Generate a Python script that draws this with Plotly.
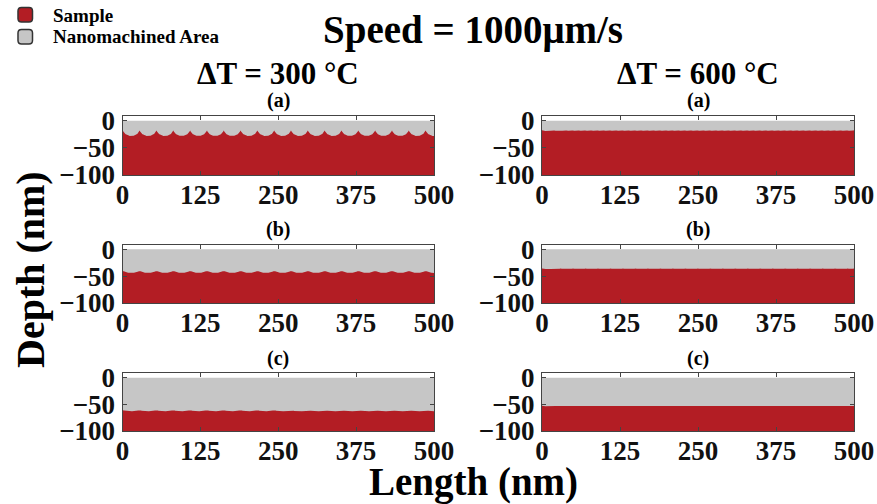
import numpy as np
import plotly.graph_objects as go

# ---------------- data ----------------
panel_labels = ["(a)", "(b)", "(c)"]
col_titles = ["ΔT = 300 °C", "ΔT = 600 °C"]
x_ticks = [0, 125, 250, 375, 500]
y_ticks = [-100, -50, 0]

# ΔT = 300 °C : visible scallops (trough depth, cusp depth) in nm
left_trough = [28, 44, 63]
left_cusp = [17, 40, 61]
left_spacing = 27      # nm between tool passes
left_first = 14        # nm, first pass centre

# ΔT = 600 °C : almost flat floor
right_trough = [18.5, 36.5, 53.5]
right_cusp = [17.5, 35.5, 52.5]
right_spacing = 10
right_first = 5

sample_color = "#B31D24"
area_color = "#C6C6C6"

FONT = "Times New Roman, Liberation Serif, DejaVu Serif, serif"


def surface(trough, cusp, spacing, first, n=1501):
    x = np.linspace(0, 500, n)
    h = trough - cusp
    half = spacing / 2.0
    R = (half ** 2 + h ** 2) / (2 * h)
    dx = np.abs(((x - first + half) % spacing) - half)
    y = -trough + (R - np.sqrt(np.maximum(R ** 2 - dx ** 2, 0)))
    return x, y


W, H = 877, 504


def PX(X):
    return X / W


def PY(Y):
    return 1 - Y / H


x_dom = [(PX(122.5), PX(434)), (PX(542), PX(854))]
rows_px = [(116, 175), (244.5, 303), (373, 431)]
y_dom = [(PY(b), PY(t)) for t, b in rows_px]

fig = go.Figure()
layout = {}
idx = 0
for c in range(2):
    for r in range(3):
        idx += 1
        xa = "x" if idx == 1 else f"x{idx}"
        ya = "y" if idx == 1 else f"y{idx}"
        if c == 0:
            xs, ys = surface(left_trough[r], left_cusp[r], left_spacing, left_first)
        else:
            xs, ys = surface(right_trough[r], right_cusp[r], right_spacing, right_first)
        # nanomachined area
        fig.add_trace(go.Scatter(x=[0, 500, 500, 0, 0], y=[0, 0, -100, -100, 0],
                                 fill="toself", fillcolor=area_color, mode="lines",
                                 line=dict(width=0), showlegend=False,
                                 hoverinfo="skip", xaxis=xa, yaxis=ya))
        # sample
        px = np.concatenate([xs, [500, 0]])
        py = np.concatenate([ys, [-100, -100]])
        fig.add_trace(go.Scatter(x=px, y=py, fill="toself", fillcolor=sample_color,
                                 mode="lines", line=dict(width=0), showlegend=False,
                                 hoverinfo="skip", xaxis=xa, yaxis=ya))
        axcommon = dict(showline=True, linecolor="#444444", linewidth=1, mirror="ticks",
                        ticks="inside", ticklen=4, tickcolor="#444444", showgrid=False,
                        zeroline=False, fixedrange=True, automargin=False,
                        tickfont=dict(family=FONT, size=27, color="#111111", weight="bold"))
        layout["xaxis" if idx == 1 else f"xaxis{idx}"] = dict(
            axcommon, domain=list(x_dom[c]), range=[0, 500], tickvals=x_ticks,
            anchor=ya, ticklabelstandoff=-4)
        layout["yaxis" if idx == 1 else f"yaxis{idx}"] = dict(
            axcommon, domain=list(y_dom[r]), range=[-100, 9], tickvals=y_ticks,
            anchor=xa, ticklabelstandoff=1)

annotations = []
for c in range(2):
    xc = (x_dom[c][0] + x_dom[c][1]) / 2
    annotations.append(dict(text=col_titles[c], x=xc, y=PY(73), xref="paper", yref="paper",
                            showarrow=False, xanchor="center", yanchor="middle",
                            font=dict(family=FONT, size=31, color="black", weight="bold")))
    for r in range(3):
        annotations.append(dict(text=panel_labels[r], x=xc, y=PY(rows_px[r][0] - 15),
                                xref="paper", yref="paper", showarrow=False,
                                xanchor="center", yanchor="middle",
                                font=dict(family=FONT, size=20, color="black", weight="bold")))

annotations.append(dict(text="Speed = 1000μm/s", x=PX(473), y=PY(30), xref="paper", yref="paper",
                        showarrow=False, xanchor="center", yanchor="middle",
                        font=dict(family=FONT, size=39, color="black", weight="bold")))
annotations.append(dict(text="Length (nm)", x=PX(473), y=PY(482), xref="paper", yref="paper",
                        showarrow=False, xanchor="center", yanchor="middle",
                        font=dict(family=FONT, size=39, color="black", weight="bold")))
annotations.append(dict(text="Depth (nm)", x=PX(30), y=PY(270), xref="paper", yref="paper",
                        showarrow=False, xanchor="center", yanchor="middle", textangle=-90,
                        font=dict(family=FONT, size=40, color="black", weight="bold")))

# legend (drawn manually)
legend_items = ["Sample", "Nanomachined Area"]
legend_colors = [sample_color, area_color]


def px2paper(s):
    out = []
    for tok in s.split(" "):
        if "," in tok:
            a, b = tok.split(",")
            out.append(f"{PX(float(a)):.5f},{PY(float(b)):.5f}")
        else:
            out.append(tok)
    return " ".join(out)


shapes = []
for i, (name, col) in enumerate(zip(legend_items, legend_colors)):
    top = 7.5 + i * 22
    x0, x1 = 18, 32.5
    y0, y1 = top, top + 14.5
    rr = 3.5
    path = (f"M {x0+rr},{y0} L {x1-rr},{y0} Q {x1},{y0} {x1},{y0+rr} L {x1},{y1-rr} "
            f"Q {x1},{y1} {x1-rr},{y1} L {x0+rr},{y1} Q {x0},{y1} {x0},{y1-rr} "
            f"L {x0},{y0+rr} Q {x0},{y0} {x0+rr},{y0} Z")
    shapes.append(dict(type="path", path=px2paper(path), xref="paper", yref="paper",
                       fillcolor=col, line=dict(color="#333333", width=1.5)))
    annotations.append(dict(text=name, x=PX(51), y=PY(top + 7.5), xref="paper", yref="paper",
                            showarrow=False, xanchor="left", yanchor="middle",
                            font=dict(family=FONT, size=19, color="black", weight="bold")))

fig.update_layout(**layout)
fig.update_layout(width=W, height=H, margin=dict(l=0, r=0, t=0, b=0, autoexpand=False),
                  paper_bgcolor="white", plot_bgcolor="white", showlegend=False,
                  annotations=annotations, shapes=shapes)

fig.write_html("out.html", include_plotlyjs=True, config={"displayModeBar": False},
               post_script="document.body.style.margin='0';document.body.style.overflow='hidden';")
